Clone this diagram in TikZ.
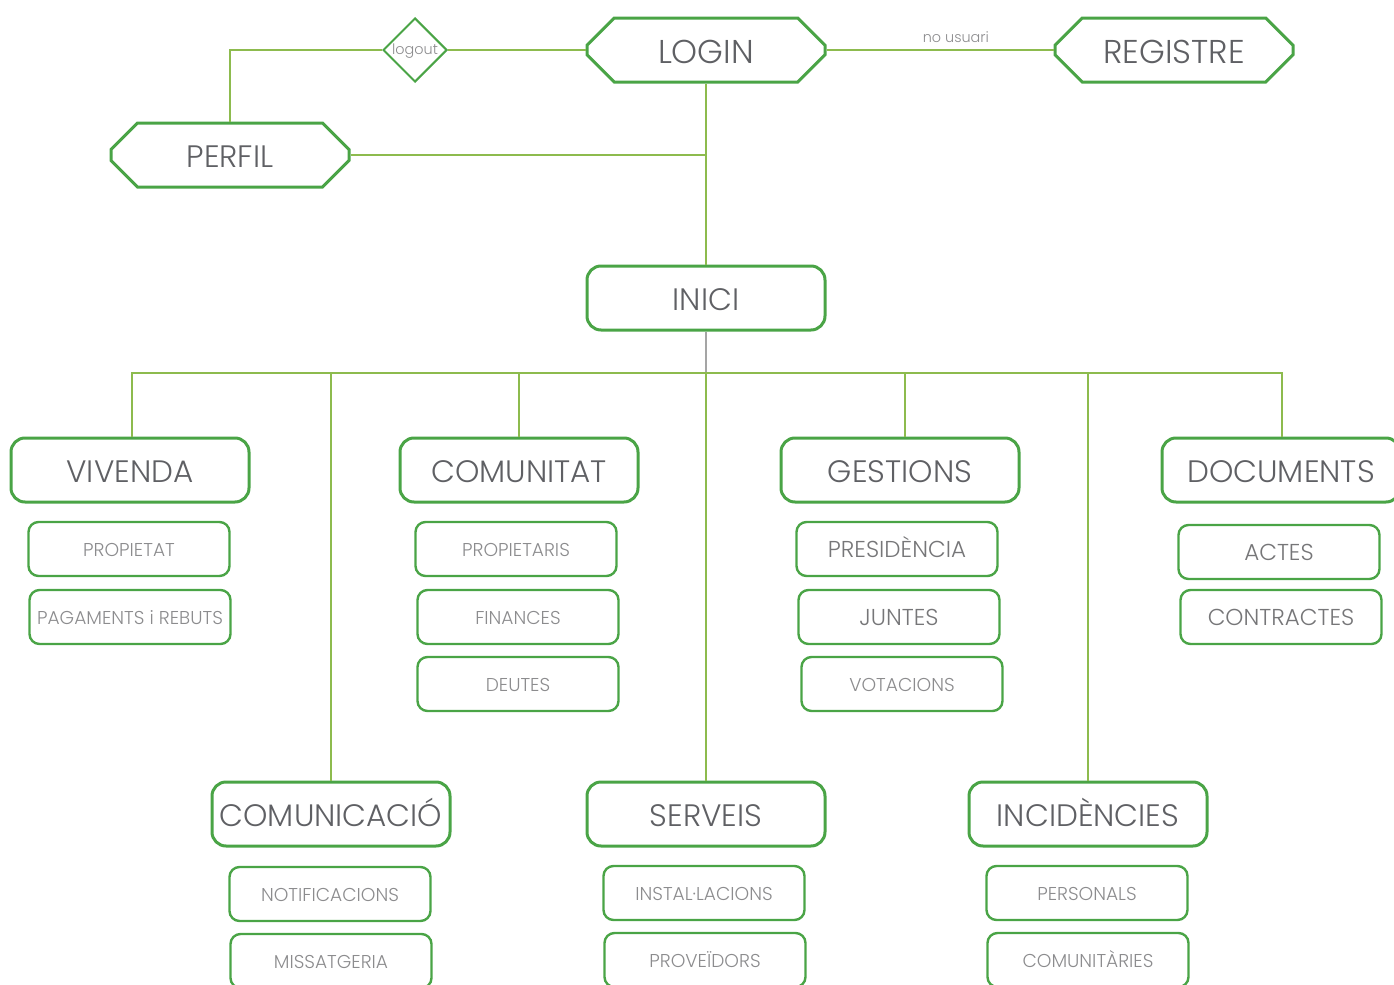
\documentclass[tikz,border=0pt]{standalone}
\usepackage{fontspec}
\setmainfont{Poppins}[UprightFont=* Light]
\usetikzlibrary{shapes.misc,shapes.geometric}
\definecolor{boxgreen}{RGB}{74,164,70}
\definecolor{linegreen}{RGB}{141,187,78}
\definecolor{stubgray}{RGB}{165,165,165}
\definecolor{maingray}{RGB}{95,96,100}
\definecolor{midgray}{RGB}{118,118,120}
\definecolor{subgray}{RGB}{140,140,142}
\tikzset{
  base/.style={inner sep=0pt, text depth=0pt, align=center},
  oct/.style={base, chamfered rectangle, chamfered rectangle xsep=7pt, chamfered rectangle ysep=7pt,
    draw=boxgreen, line width=1.5pt, minimum width=119pt, minimum height=32pt, text=maingray,
    font=\fontsize{16.5}{16.5}\selectfont, text height=13.2pt},
  mainbox/.style={base, rectangle, rounded corners=7pt, draw=boxgreen, line width=1.5pt,
    minimum width=119pt, minimum height=32pt, text=maingray, font=\fontsize{15.5}{15.5}\selectfont,
    text height=12.4pt},
  subbox/.style={base, rectangle, rounded corners=5pt, draw=boxgreen, line width=1.2pt,
    minimum width=100.5pt, minimum height=27pt, text=subgray, font=\fontsize{9.3}{9.3}\selectfont,
    text height=7.4pt},
  subbig/.style={subbox, text=midgray, font=\fontsize{11.5}{11.5}\selectfont, text height=8.9pt},
  conn/.style={draw=linegreen, line width=1pt},
  small/.style={inner sep=0pt, text=subgray, font=\fontsize{7.2}{7.2}\selectfont}
}
\begin{document}
\begin{tikzpicture}[x=0.5pt,y=-0.5pt]
\useasboundingbox (0,0) rectangle (1394,985);
% top
\node[oct] (login) at (706,50) {LOGIN};
\node[oct] (registre) at (1174,50) {REGISTRE};
\node[oct, font=\fontsize{15.5}{15.5}\selectfont, text height=12.4pt] (perfil) at (230,155) {PERFIL};
\node[diamond, draw=boxgreen, line width=1pt, minimum width=32pt, minimum height=32pt, inner sep=0pt] (logout) at (415,50) {};
\node[small] (logouttxt) at (415,51) {logout};
\node[mainbox] (inici) at (706,298) {INICI};
% level 1
\node[mainbox] (vivenda) at (130,470) {VIVENDA};
\node[mainbox] (comunitat) at (519,470) {COMUNITAT};
\node[mainbox] (gestions) at (900,470) {GESTIONS};
\node[mainbox] (documents) at (1281,470) {DOCUMENTS};
\node[mainbox] (comunicacio) at (331,814) {COMUNICACIÓ};
\node[mainbox] (serveis) at (706,814) {SERVEIS};
\node[mainbox] (incidencies) at (1088,814) {INCIDÈNCIES};
% sub
\node[subbox] (propietat) at (129,549) {PROPIETAT};
\node[subbox] (pagaments) at (130,617) {PAGAMENTS i REBUTS};
\node[subbox] (propietaris) at (516,549) {PROPIETARIS};
\node[subbox] (finances) at (518,617) {FINANCES};
\node[subbox] (deutes) at (518,684) {DEUTES};
\node[subbig] (presidencia) at (897,549) {PRESIDÈNCIA};
\node[subbig] (juntes) at (899,617) {JUNTES};
\node[subbox] (votacions) at (902,684) {VOTACIONS};
\node[subbig] (actes) at (1279,552) {ACTES};
\node[subbig] (contractes) at (1281,617) {CONTRACTES};
\node[subbox] (notificacions) at (330,894) {NOTIFICACIONS};
\node[subbox] (missatgeria) at (331,961) {MISSATGERIA};
\node[subbox] (installacions) at (704,893) {INSTAL·LACIONS};
\node[subbox] (proveidors) at (705,960) {PROVEÏDORS};
\node[subbox] (personals) at (1087,893) {PERSONALS};
\node[subbox] (comunitaries) at (1088,960) {COMUNITÀRIES};
% connectors
\draw[conn] (perfil.north) |- (logout.west);
\draw[conn] (logout.east) -- (login.west);
\draw[conn] (login.east) -- node[small, above=3pt, pos=0.57] (nousuari) {no usuari} (registre.west);
\draw[conn] (login.south) -- (inici.north);
\draw[conn] (perfil.east) -- (perfil.east -| login.south);
\coordinate (hub) at (706,373);
\draw[draw=stubgray, line width=1pt] (inici.south) -- (hub);
\draw[conn] (hub) -| ([xshift=1pt]vivenda.north);
\draw[conn] (hub) -| ([xshift=0.5pt]documents.north);
\draw[conn] (hub) -| (comunitat.north);
\draw[conn] (hub) -| ([xshift=2.5pt]gestions.north);
\draw[conn] (hub) -| (comunicacio.north);
\draw[conn] (hub) -| (incidencies.north);
\draw[conn] (hub) -- (serveis.north);
\end{tikzpicture}
\end{document}
